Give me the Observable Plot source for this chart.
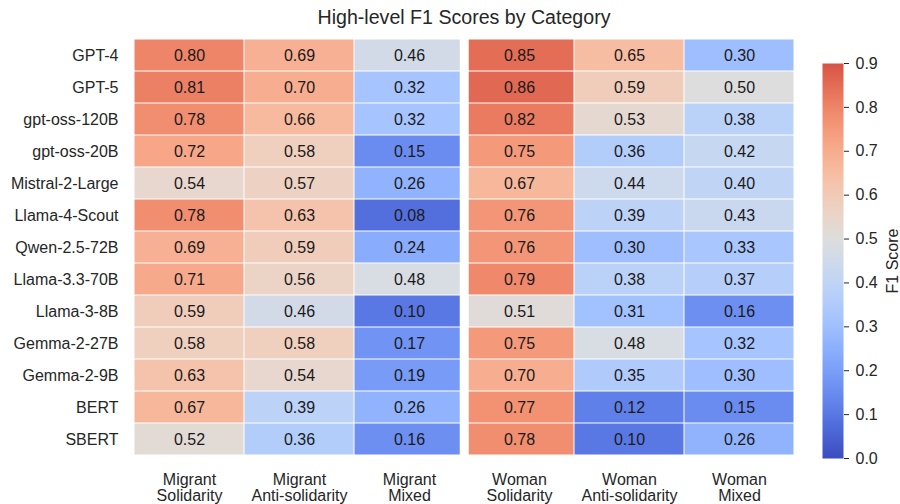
<!DOCTYPE html>
<html>
<head>
<meta charset="utf-8">
<script src="https://cdn.jsdelivr.net/npm/d3@7"></script>
<script src="https://cdn.jsdelivr.net/npm/@observablehq/plot@0.6"></script>
<style>
  body { margin: 0; background: #fff; }
  #chart { position: relative; width: 900px; height: 504px; font-family: "Liberation Sans", Arial, sans-serif; color: #262626; overflow: hidden; }
  #title { position: absolute; left: 0; top: 8px; width: 928px; text-align: center; font-size: 19.6px; line-height: 19.6px; }
  #main { position: absolute; left: 0; top: 0; width: 900px; }
  #cbar { position: absolute; left: 822px; top: 0; width: 80px; }
  #chart svg { max-width: none !important; }
</style>
</head>
<body>
<div id="chart">
  <div id="main"></div>
  <div id="cbar"></div>
  <div id="title">High-level F1 Scores by Category</div>
</div>
<script>
const models = ["GPT-4", "GPT-5", "gpt-oss-120B", "gpt-oss-20B", "Mistral-2-Large", "Llama-4-Scout",
  "Qwen-2.5-72B", "Llama-3.3-70B", "Llama-3-8B", "Gemma-2-27B", "Gemma-2-9B", "BERT", "SBERT"];
const categories = ["Migrant\nSolidarity", "Migrant\nAnti-solidarity", "Migrant\nMixed",
  "Woman\nSolidarity", "Woman\nAnti-solidarity", "Woman\nMixed"];

const migrantSolidarity     = [0.80, 0.81, 0.78, 0.72, 0.54, 0.78, 0.69, 0.71, 0.59, 0.58, 0.63, 0.67, 0.52];
const migrantAntiSolidarity = [0.69, 0.70, 0.66, 0.58, 0.57, 0.63, 0.59, 0.56, 0.46, 0.58, 0.54, 0.39, 0.36];
const migrantMixed          = [0.46, 0.32, 0.32, 0.15, 0.26, 0.08, 0.24, 0.48, 0.10, 0.17, 0.19, 0.26, 0.16];
const womanSolidarity       = [0.85, 0.86, 0.82, 0.75, 0.67, 0.76, 0.76, 0.79, 0.51, 0.75, 0.70, 0.77, 0.78];
const womanAntiSolidarity   = [0.65, 0.59, 0.53, 0.36, 0.44, 0.39, 0.30, 0.38, 0.31, 0.48, 0.35, 0.12, 0.10];
const womanMixed            = [0.30, 0.50, 0.38, 0.42, 0.40, 0.43, 0.33, 0.37, 0.16, 0.32, 0.30, 0.15, 0.26];

const colorbarTicks = [0, 0.1, 0.2, 0.3, 0.4, 0.5, 0.6, 0.7, 0.8, 0.9];

const columns = [migrantSolidarity, migrantAntiSolidarity, migrantMixed, womanSolidarity, womanAntiSolidarity, womanMixed];
const table = columns.flatMap((col, j) => col.map((v, i) => ({model: models[i], category: categories[j], value: v})));

// matplotlib "coolwarm" colormap (Moreland) control points
const cwStops = [
  [59,76,192],[68,90,204],[77,104,215],[87,117,225],[98,130,234],[108,142,241],[119,154,247],[130,165,251],
  [141,176,254],[152,185,255],[163,194,255],[174,201,253],[184,208,249],[194,213,244],[204,217,238],[213,219,230],
  [221,221,221],[229,216,209],[236,211,197],[241,204,185],[245,196,173],[247,187,160],[247,177,148],[247,166,135],
  [244,154,123],[241,141,111],[236,127,99],[229,112,88],[222,96,77],[213,80,66],[203,62,56],[192,40,47],[180,4,38]
];
const cwScale = d3.scaleLinear()
  .domain(cwStops.map((_, i) => i / (cwStops.length - 1)))
  .range(cwStops.map(c => `rgb(${c[0]},${c[1]},${c[2]})`))
  .interpolate(d3.interpolateRgb)
  .clamp(true);
const coolwarm = (t) => cwScale(t);
const colorOpts = {type: "linear", domain: [0, 1], interpolate: coolwarm};

const W = 900, H = 504, mL = 132, mR = 105, mT = 35, mB = 46;
const bw = (W - mL - mR) / categories.length;
const font = "Liberation Sans, Arial, sans-serif";

const main = Plot.plot({
  width: W, height: H,
  marginLeft: mL, marginRight: mR, marginTop: mT, marginBottom: mB,
  style: {fontFamily: font, fontSize: "16px", color: "#262626", background: "transparent"},
  x: {domain: categories, padding: 0, label: null},
  y: {domain: models, padding: 0, label: null},
  color: colorOpts,
  marks: [
    Plot.cell(table, {x: "category", y: "model", fill: "value", inset: 0.5}),
    Plot.text(table, {x: "category", y: "model", text: d => d.value.toFixed(2), fill: "#1a1a1a", fontSize: 16}),
    Plot.ruleX([categories[3]], {x: d => d, dx: -bw / 2, stroke: "white", strokeWidth: 9}),
    Plot.axisX({anchor: "bottom", tickSize: 0, tickPadding: 15, label: null, fontSize: 16, lineHeight: 1}),
    Plot.axisY({anchor: "left", tickSize: 0, tickPadding: 14, label: null, fontSize: 16})
  ]
});
document.getElementById("main").appendChild(main);

const cbar = Plot.plot({
  width: 80, height: H,
  marginLeft: 0, marginRight: 59, marginTop: 63, marginBottom: mB,
  style: {fontFamily: font, fontSize: "16px", color: "#262626", background: "transparent"},
  x: {domain: [0, 1], axis: null},
  y: {domain: [0, 0.9], label: null},
  color: colorOpts,
  marks: [
    Plot.raster({x1: 0, x2: 1, y1: 0, y2: 0.9, width: 1, height: 400, fill: (x, y) => y}),
    Plot.axisY(colorbarTicks, {anchor: "right", tickSize: 5, tickPadding: 7, tickFormat: d3.format(".1f"),
      label: "F1 Score", labelAnchor: "center", labelArrow: "none", labelOffset: 54, fontSize: 16})
  ]
});
document.getElementById("cbar").appendChild(cbar);
</script>
</body>
</html>
